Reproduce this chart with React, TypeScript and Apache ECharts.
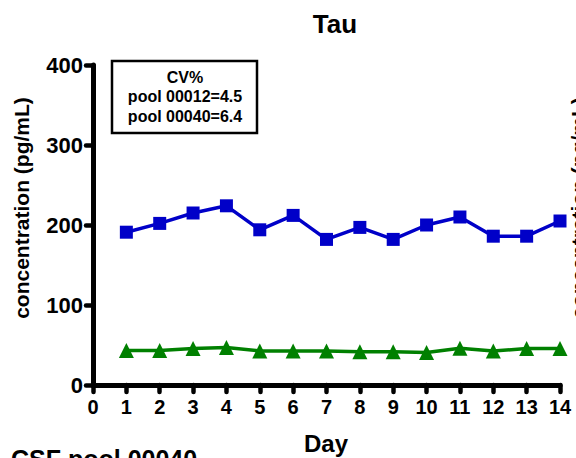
import React, { useEffect, useRef } from "react";
import * as echarts from "echarts";

const days = [1, 2, 3, 4, 5, 6, 7, 8, 9, 10, 11, 12, 13, 14];
const pool00012 = [191, 202, 215, 224, 194, 212, 182, 197, 182, 200, 210, 186, 186, 205];
const pool00040 = [43, 43, 45.5, 47, 42.5, 42.5, 42.5, 41.5, 41.5, 40.5, 46, 42.5, 45.5, 45.5];
const cvLines = ["CV%", "pool 00012=4.5", "pool 00040=6.4"];
const titleText = "Tau";
const yName = "concentration (pg/mL)";
const xName = "Day";
const clippedBottom = "CSF pool 00040";

const FONT = "'Liberation Sans', Arial, sans-serif";

export default function App() {
  const ref = useRef<HTMLDivElement>(null);
  useEffect(() => {
    if (!ref.current) return;
    const chart = echarts.init(ref.current, undefined, { renderer: "svg" });
    chart.setOption({
      animation: false,
      backgroundColor: "#ffffff",
      title: {
        text: titleText,
        left: 330,
        textAlign: "center",
        top: 6,
        textStyle: { fontFamily: FONT, fontWeight: "bold", fontSize: 26, color: "#000" },
      },
      grid: { left: 93, right: 16, top: 65, bottom: 73, containLabel: false },
      xAxis: {
        type: "value",
        min: 0,
        max: 14,
        interval: 1,
        splitLine: { show: false },
        axisLine: { lineStyle: { color: "#000", width: 5, cap: "round" } },
        axisTick: { inside: false, length: 7, lineStyle: { color: "#000", width: 4.5, cap: "round" } },
        axisLabel: { margin: 12, fontFamily: FONT, fontWeight: "bold", fontSize: 20, color: "#000" },
      },
      yAxis: {
        type: "value",
        min: 0,
        max: 400,
        interval: 100,
        splitLine: { show: false },
        axisLine: { show: true, lineStyle: { color: "#000", width: 5, cap: "round" } },
        axisTick: { show: true, length: 7, lineStyle: { color: "#000", width: 4.5, cap: "round" } },
        axisLabel: { margin: 10, fontFamily: FONT, fontWeight: "bold", fontSize: 22, color: "#000" },
      },
      series: [
        {
          name: "pool 00012",
          type: "line",
          data: days.map((d, i) => [d, pool00012[i]]),
          symbol: "rect",
          symbolSize: 13,
          lineStyle: { color: "#0000C8", width: 3.5 },
          itemStyle: { color: "#0000C8" },
        },
        {
          name: "pool 00040",
          type: "line",
          data: days.map((d, i) => [d, pool00040[i]]),
          symbol: "triangle",
          symbolSize: 15,
          lineStyle: { color: "#008000", width: 3.5 },
          itemStyle: { color: "#008000" },
        },
      ],
      graphic: [
        {
          type: "rect",
          shape: { x: 112, y: 61, width: 145, height: 72 },
          style: { fill: "#fff", stroke: "#000", lineWidth: 2.5 },
          z: 10,
        },
        ...cvLines.map((t, i) => ({
          type: "text",
          x: 185,
          y: 77 + i * 19.5,
          z: 11,
          style: {
            text: t,
            font: `bold 16px ${FONT}`,
            fill: "#000",
            align: "center",
            verticalAlign: "middle",
          },
        })),
        {
          type: "text",
          x: 21,
          y: 208,
          rotation: Math.PI / 2,
          style: {
            text: yName,
            font: `bold 21px ${FONT}`,
            fill: "#000",
            align: "center",
            verticalAlign: "middle",
          },
        },
        {
          type: "text",
          x: 568,
          y: 208,
          rotation: Math.PI / 2,
          style: {
            text: yName,
            font: `bold 21px ${FONT}`,
            fill: "#000",
            align: "center",
            verticalAlign: "top",
          },
        },
        {
          type: "text",
          x: 326,
          y: 443,
          style: {
            text: xName,
            font: `bold 24px ${FONT}`,
            fill: "#000",
            align: "center",
            verticalAlign: "middle",
          },
        },
        {
          type: "text",
          x: 11,
          y: 446,
          style: {
            text: clippedBottom,
            font: `bold 25px ${FONT}`,
            fill: "#000",
            align: "left",
            verticalAlign: "top",
          },
        },
      ],
    });
    return () => chart.dispose();
  }, []);
  return (
    <div
      ref={ref}
      style={{ position: "fixed", left: 0, top: 0, width: 576, height: 458, background: "#fff" }}
    />
  );
}
